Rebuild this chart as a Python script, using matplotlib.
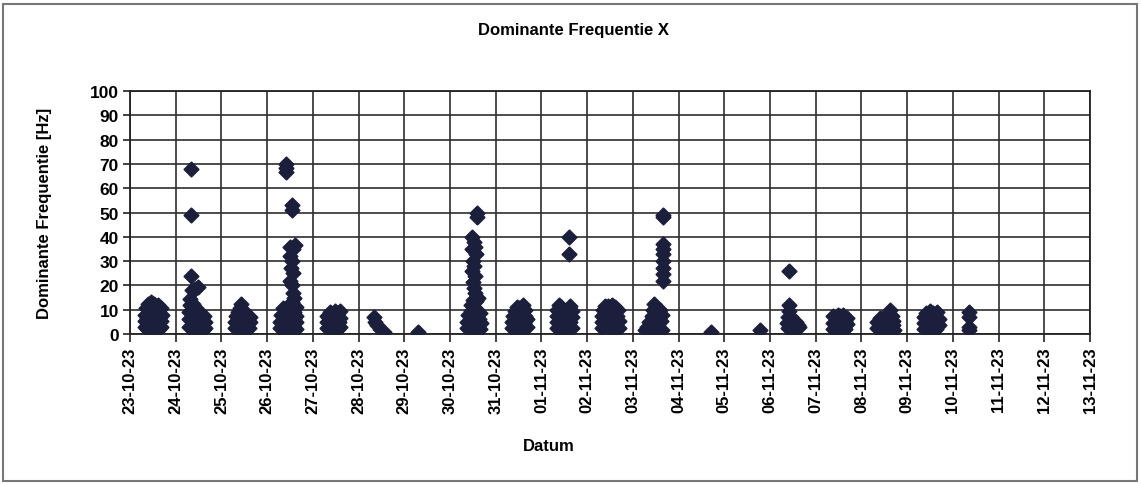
import matplotlib
matplotlib.use("Agg")
import matplotlib.pyplot as plt
import matplotlib.dates as mdates
from matplotlib.patches import Rectangle
from datetime import datetime, timedelta
from matplotlib import font_manager

# ---------------- data ----------------
title = "Dominante Frequentie X"
ylabel = "Dominante Frequentie [Hz]"
xlabel = "Datum"
y_ticks = [0, 10, 20, 30, 40, 50, 60, 70, 80, 90, 100]
x_start = "2023-10-23"
x_end = "2023-11-13"

# (hour of day, frequency Hz) per measuring day
pts_2023_10_23 = [(8, 3), (8, 5.5), (8, 8), (8.3, 10.5), (9.5, 12.5), (10, 2.5), (10, 5), (10.2, 7.5),
                  (10, 10.5), (11, 13), (12, 3), (12, 5.5), (11.8, 8), (12, 10.5), (12.5, 12.2),
                  (14, 2.8), (14, 5.5), (14.2, 8), (14, 10.5), (14.5, 12), (16.5, 3), (16.5, 5.5),
                  (16.7, 8), (16.5, 10.5), (9, 2), (15, 2), (13, 4), (15.5, 7), (9, 6.5), (13, 9.5)]
pts_2023_10_24 = [(8, 68), (8, 49), (8, 24), (8.5, 18), (10, 18.5), (11.5, 19.5), (7.5, 14.5),
                  (7.3, 12), (7.2, 9), (7.2, 6), (7.2, 3), (9, 12.5), (9, 10), (9, 7), (9, 4),
                  (9, 2), (10.5, 10.5), (10.5, 7.5), (10.5, 5), (10.5, 2.5), (12, 9), (12, 6.5),
                  (12, 4), (12, 2), (13.5, 8), (13.5, 5.5), (13.5, 3), (15, 7.5), (15.5, 5), (15.5, 2.5),
                  (14.5, 1.5)]
pts_2023_10_25 = [(7.2, 2.5), (7.2, 5), (7.5, 7.5), (8.5, 9), (10.5, 12.5), (9, 3), (9, 6),
                  (9.5, 10.5), (10.5, 4), (10.5, 7.5), (11.5, 10), (12, 2.5), (12, 5.5), (12.5, 8.5),
                  (13.5, 3.5), (13.5, 6.5), (14.5, 2.5), (15.2, 5), (15, 7), (10, 1.5), (11.5, 1.5)]
pts_2023_10_26 = [(10, 70), (10, 68.5), (10, 66.5), (13.2, 53), (13.2, 51), (12, 36), (13.5, 35),
                  (14.5, 36.5), (12, 32), (13, 30), (12.5, 27), (13.5, 25), (12, 22), (13, 20),
                  (13.5, 17), (14, 15), (13, 13), (7, 2.5), (7, 5), (7.2, 8), (8.5, 10.5), (9, 2),
                  (9, 4.5), (9, 7), (10.5, 2.5), (10.5, 9), (10.5, 5.5), (11, 11.5), (12, 8),
                  (12.5, 2.5), (12.5, 5), (12.5, 10.5), (14, 3), (14, 6), (14, 9), (15, 2), (15, 5),
                  (15, 7.5), (15, 11)]
pts_2023_10_27 = [(7.2, 2.5), (7.2, 5), (7.5, 7.5), (9, 9), (9, 3), (9, 6), (10.5, 2.5), (10.5, 5),
                  (10.5, 8), (11.5, 9.5), (12, 3.5), (12, 6.5), (13, 2), (13, 8.5), (13.5, 5),
                  (14.5, 3), (14.5, 6.5), (14, 9.5)]
pts_2023_10_28 = [(8, 7), (8.5, 5), (9.5, 3.5), (11, 2), (13.5, 0.8)]
pts_2023_10_29 = [(7.2, 1)]
pts_2023_10_30 = [(14.4, 50), (14.4, 48), (11.5, 40), (12.5, 38), (13, 36), (11.5, 35), (13.5, 33),
                  (12, 30), (12.8, 28), (11.5, 26), (13, 24), (12, 21.5), (12.5, 19), (13, 17),
                  (14.5, 15), (13.5, 13.5), (11, 12), (9, 2.5), (9, 5), (9.5, 8), (10.5, 3), (11, 6.5),
                  (12, 10), (12.5, 2), (12.5, 4.5), (13, 7.5), (14, 10), (14.5, 3), (15, 6), (16, 2),
                  (16.5, 4.5), (12, 14), (15.5, 8.5), (11, 9.5)]
pts_2023_10_31 = [(8.5, 2.5), (8.5, 5), (9, 7.5), (10, 9.5), (10.5, 3), (10.5, 6), (12, 2),
                  (12, 4.5), (12, 7.5), (12.2, 10.5), (13.5, 3), (13.5, 6), (13.5, 9), (14.5, 12),
                  (15, 2), (15, 4.5), (15.3, 7.5), (15.5, 10), (16.2, 3), (16.2, 6), (11, 11)]
pts_2023_11_01 = [(14.6, 40), (14.6, 33), (8, 2.5), (8, 5), (8, 7.5), (8.2, 10), (9, 12),
                  (10, 3.5), (10, 6), (10, 9), (10.2, 11), (11.5, 2), (11.5, 4.5), (12, 7.5),
                  (12, 10), (13.5, 3), (13.5, 6), (13.5, 8.5), (14.5, 10.5), (15, 2), (15, 5),
                  (15.2, 11.5), (16.2, 2.5), (16.2, 7), (16, 9.5)]
pts_2023_11_02 = [(8, 2.5), (8, 5), (8, 7.5), (8.5, 10), (9.5, 11.5), (10, 3.5), (10, 6),
                  (10.5, 8.5), (11, 11.5), (12, 2), (12, 4.5), (12, 7), (12.5, 10), (13.5, 3),
                  (13.5, 6), (14, 8.5), (14.5, 11), (15, 2), (15, 4.5), (15.5, 7.5), (16, 10),
                  (16.7, 2.5), (16.7, 5.5), (13, 12)]
pts_2023_11_03 = [(15.8, 49), (15.8, 48), (15.8, 37), (15.8, 35), (15.8, 33), (15.8, 30),
                  (15.8, 27), (15.8, 24.5), (15.8, 22), (11, 12.5), (6.5, 1.5), (7.5, 3),
                  (8.5, 5), (9, 2), (10, 7.5), (10.5, 4), (10.5, 10), (12, 2), (12, 6),
                  (12, 9), (13, 4), (13.5, 7.5), (14, 10), (14.5, 2), (15, 5.5), (15.5, 8), (15.5, 1.5)]
pts_2023_11_04 = [(16.8, 1)]
pts_2023_11_05 = [(18.5, 1.5)]
pts_2023_11_06 = [(9.8, 26), (9.8, 12), (9.8, 9.5), (9.2, 7), (9, 4.5), (9.5, 2.5), (11, 1.5),
                  (11, 4.5), (11, 7), (12, 5.5), (12.5, 3), (13.5, 5), (13.5, 2), (14.5, 3.5),
                  (15.2, 3)]
pts_2023_11_07 = [(9, 7.5), (9, 4.5), (9, 2), (10.5, 6), (10.5, 3), (11.5, 8), (12, 5), (12.5, 2.5),
                  (13.5, 6), (14, 3.5), (14.5, 8), (15.5, 5.5), (15.5, 2), (16.5, 4), (16.5, 6.5),
                  (13, 7.5)]
pts_2023_11_08 = [(8, 5), (8.3, 2.5), (9.5, 6.5), (10, 3.5), (11, 1.5), (11.5, 5), (12.5, 7),
                  (12.5, 3), (13.5, 5), (14, 8.5), (14.5, 2), (15, 5.5), (15, 10), (16, 7.5),
                  (16.5, 3.5), (17, 1.5), (16.8, 5.5), (10.5, 6)]
pts_2023_11_09 = [(9, 2), (9, 4.5), (9, 7), (10, 8.5), (10.5, 3), (10.5, 5.5), (12, 2), (12, 4.5),
                  (12, 7), (12, 9.5), (13.5, 3), (13.5, 5.5), (13.5, 8.5), (15, 2), (15, 4.5),
                  (15, 7), (15.5, 9), (16.5, 3.5), (16.5, 6)]
pts_2023_11_10 = [(8.4, 9), (8.4, 7), (8.4, 3), (8.4, 1.5)]

days = {
    "2023-10-23": pts_2023_10_23, "2023-10-24": pts_2023_10_24, "2023-10-25": pts_2023_10_25,
    "2023-10-26": pts_2023_10_26, "2023-10-27": pts_2023_10_27, "2023-10-28": pts_2023_10_28,
    "2023-10-29": pts_2023_10_29, "2023-10-30": pts_2023_10_30, "2023-10-31": pts_2023_10_31,
    "2023-11-01": pts_2023_11_01, "2023-11-02": pts_2023_11_02, "2023-11-03": pts_2023_11_03,
    "2023-11-04": pts_2023_11_04, "2023-11-05": pts_2023_11_05, "2023-11-06": pts_2023_11_06,
    "2023-11-07": pts_2023_11_07, "2023-11-08": pts_2023_11_08, "2023-11-09": pts_2023_11_09,
    "2023-11-10": pts_2023_11_10,
}

# ---------------- style ----------------
avail = {f.name for f in font_manager.fontManager.ttflist}
fam = ["Liberation Sans Narrow", "Liberation Sans", "DejaVu Sans"]
fam = [f for f in fam if f in avail] or ["DejaVu Sans"]
plt.rcParams["font.family"] = fam
plt.rcParams["font.weight"] = "bold"

W, H = 1141, 485
fig = plt.figure(figsize=(W / 100, H / 100), dpi=100)
ax = fig.add_axes([130 / W, 1 - 335 / H, (1090 - 130) / W, (335 - 92) / H])

xs, ys = [], []
for d, pts in days.items():
    base = datetime.strptime(d, "%Y-%m-%d")
    for h, f in pts:
        xs.append(base + timedelta(hours=h))
        ys.append(f)

mc = "#1c1f3c"
ax.scatter(xs, ys, marker="D", s=52, color=mc, edgecolors=mc,
           linewidths=1.4, zorder=3)

x0 = datetime.strptime(x_start, "%Y-%m-%d")
x1 = datetime.strptime(x_end, "%Y-%m-%d")
ax.set_xlim(x0, x1)
ax.set_ylim(0, 100)
ax.set_yticks(y_ticks)
ax.xaxis.set_major_locator(mdates.DayLocator())
ax.xaxis.set_major_formatter(mdates.DateFormatter("%d-%m-%y"))
for lab in ax.get_xticklabels():
    lab.set_rotation(90)
ax.tick_params(axis="x", labelsize=12, length=6, width=1.2, color="#222222", pad=3)
ax.tick_params(axis="y", labelsize=12.5, length=5, width=1.2, color="#222222", pad=3)
for lab in ax.get_xticklabels() + ax.get_yticklabels():
    lab.set_fontweight("bold")

ax.grid(True, color="#2e2e2e", linewidth=1.2)
ax.set_axisbelow(True)
for s in ax.spines.values():
    s.set_color("#222222")
    s.set_linewidth(1.3)

fig.text(573 / W, 1 - 31 / H, title, ha="center", va="center", fontsize=12, fontweight="bold")
fig.text(549 / W, 1 - 447 / H, xlabel, ha="center", va="center", fontsize=12, fontweight="bold")
fig.text(45 / W, 1 - 213 / H, ylabel, ha="center", va="center", rotation=90,
         fontsize=12, fontweight="bold")

fig.patches.append(Rectangle((3 / W, 3 / H), (1137 - 3) / W, (480 - 3) / H,
                             transform=fig.transFigure, fill=False,
                             edgecolor="#777777", linewidth=1.5))

fig.savefig("out.png", dpi=100)
